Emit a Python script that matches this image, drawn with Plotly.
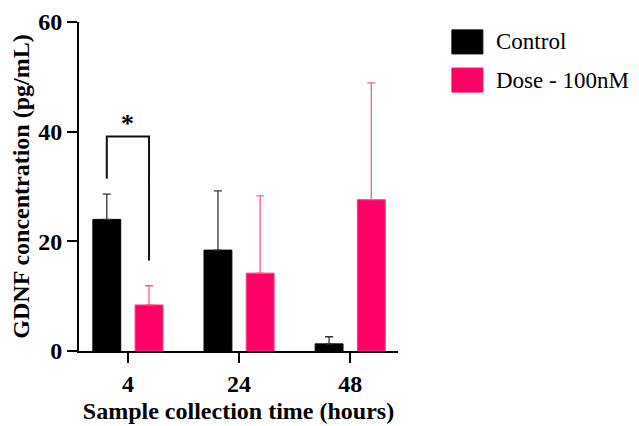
import plotly.graph_objects as go

categories = ["4", "24", "48"]
control_mean = [24.0, 18.4, 1.3]
control_upper = [28.6, 29.2, 2.6]
dose_mean = [8.4, 14.2, 27.6]
dose_upper = [11.9, 28.3, 48.9]
y_ticks = [0, 20, 40, 60]
bracket_y = [31.4, 39.1, 39.1, 16.5]
star_y = 38.4

BLACK = "#000000"
PINK = "#ff0066"
FONT = "Liberation Serif"

xpos = list(range(len(categories)))

fig = go.Figure()
fig.add_trace(go.Bar(
    x=xpos, y=control_mean, name="Control",
    marker=dict(color=BLACK, line=dict(color=BLACK, width=1)),
    error_y=dict(type="data", symmetric=False,
                 array=[u - m for u, m in zip(control_upper, control_mean)],
                 arrayminus=[0] * len(control_mean),
                 color="#333333", thickness=1.3, width=4),
    showlegend=False, hoverinfo="skip",
))
fig.add_trace(go.Bar(
    x=xpos, y=dose_mean, name="Dose - 100nM",
    marker=dict(color=PINK, line=dict(color="#ff3d85", width=1)),
    error_y=dict(type="data", symmetric=False,
                 array=[u - m for u, m in zip(dose_upper, dose_mean)],
                 arrayminus=[0] * len(dose_mean),
                 color="#ff5a90", thickness=1.3, width=4),
    showlegend=False, hoverinfo="skip",
))

off = 0.19
fig.add_trace(go.Scatter(
    x=[xpos[0] - off, xpos[0] - off, xpos[0] + off, xpos[0] + off],
    y=bracket_y, mode="lines", line=dict(color="#111111", width=2),
    showlegend=False, hoverinfo="skip",
))

fig.add_annotation(x=xpos[0], y=star_y, text="<b>*</b>", showarrow=False,
                   yanchor="bottom", font=dict(family=FONT, size=26, color=BLACK))

# legend drawn manually
legend_items = [("Control", BLACK, 0.976, 0.903), ("Dose - 100nM", PINK, 0.860, 0.787)]
for label, col, y1, y0 in legend_items:
    fig.add_shape(type="rect", xref="paper", yref="paper",
                  x0=1.169, x1=1.266, y0=y0, y1=y1,
                  fillcolor=col, line=dict(color=col, width=1))
    fig.add_annotation(xref="paper", yref="paper", x=1.30, y=(y0 + y1) / 2,
                       text=label, showarrow=False, xanchor="left", yanchor="middle",
                       font=dict(family=FONT, size=23, color=BLACK))

# page body has an 8px default margin; figure is sized to fill the rest
fig.update_layout(
    width=631, height=418,
    margin=dict(l=71, r=241, t=14, b=75, autoexpand=False),
    paper_bgcolor="white", plot_bgcolor="white",
    barmode="group", bargap=0.24, bargroupgap=0.34,
    font=dict(family=FONT, color=BLACK),
)
fig.update_xaxes(
    automargin=False,
    range=[-0.44, 2.43], tickvals=xpos, ticktext=["<b>%s</b>" % c for c in categories],
    showline=True, linecolor=BLACK, linewidth=2, showgrid=False, zeroline=False,
    ticks="outside", ticklen=10, tickwidth=2, tickcolor=BLACK,
    tickfont=dict(family=FONT, size=24, color=BLACK),
    title=dict(text="<b>Sample collection time (hours)</b>",
               font=dict(family=FONT, size=24, color=BLACK), standoff=6),
)
fig.update_yaxes(
    automargin=False,
    range=[0, 60], tickvals=y_ticks, ticktext=["<b>%d</b>" % v for v in y_ticks],
    showline=True, linecolor=BLACK, linewidth=2, showgrid=False, zeroline=False,
    ticks="outside", ticklen=10, tickwidth=2, tickcolor=BLACK,
    tickfont=dict(family=FONT, size=24, color=BLACK),
    title=dict(text="<b>GDNF concentration (pg/mL)</b>",
               font=dict(family=FONT, size=24, color=BLACK), standoff=6),
)

fig.write_html("out.html")
